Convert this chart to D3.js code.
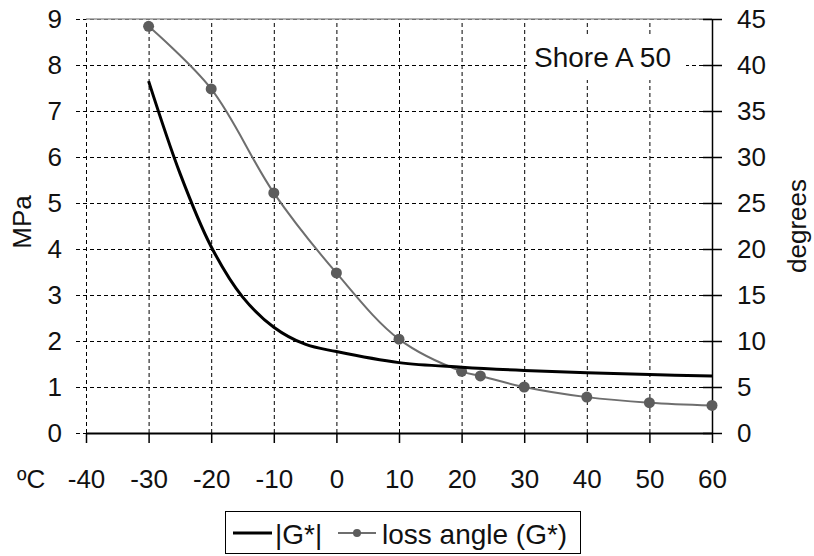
<!DOCTYPE html>
<html lang="en">
<head>
    <meta charset="UTF-8">
    <title>Shore A 50</title>
    <script src="https://d3js.org/d3.v7.min.js"></script>
    <style>
        body {
            margin: 0;
            padding: 0;
            background-color: #fff;
        }
        svg {
            display: block;
            font-family: Arial, "Liberation Sans", sans-serif;
        }
    </style>
</head>
<body>
    <svg id="chart" width="814" height="556"></svg>
    <script>
        // |G*| curve (MPa)
        const modTemps = [-30, -25, -20, -15, -10, -5, 0, 10, 20, 30, 40, 50, 60];
        const modValues = [7.65, 5.65, 4.05, 2.96, 2.3, 1.93, 1.77, 1.53, 1.43, 1.36, 1.31, 1.27, 1.24];

        // loss angle (degrees)
        const lossTemps = [-30, -20, -10, 0, 10, 20, 23, 30, 40, 50, 60];
        const lossValues = [44.2, 37.4, 26.1, 17.4, 10.2, 6.7, 6.2, 5.0, 3.9, 3.3, 3.0];

        const xTicks = [-40, -30, -20, -10, 0, 10, 20, 30, 40, 50, 60];
        const mpaTicks = [0, 1, 2, 3, 4, 5, 6, 7, 8, 9];
        const degTicks = [0, 5, 10, 15, 20, 25, 30, 35, 40, 45];

        const svg = d3.select("#chart");
        const pLeft = 86, pRight = 712, pTop = 19, pBottom = 433;
        const plain = d => String(d); // keep "-" hyphen like the original

        const x = d3.scaleLinear().domain([-40, 60]).range([pLeft, pRight]);
        const yL = d3.scaleLinear().domain([0, 9]).range([pBottom, pTop]);
        const yR = d3.scaleLinear().domain([0, 45]).range([pBottom, pTop]);

        // horizontal grid + left labels
        const gy = svg.append("g")
            .attr("transform", "translate(76,0)")
            .call(d3.axisLeft(yL).tickValues(mpaTicks).tickSize(-(pRight - 76)).tickPadding(14).tickFormat(plain));
        gy.select(".domain").remove();
        gy.selectAll("line").attr("stroke", "#000").attr("stroke-dasharray", "4,3");
        gy.selectAll("text").style("font-size", "26px").attr("fill", "#111");

        // vertical grid
        const gx = svg.append("g")
            .attr("transform", `translate(0,${pBottom})`)
            .call(d3.axisBottom(x).tickValues(xTicks.slice(0, -1)).tickSize(-(pBottom - pTop)).tickFormat(""));
        gx.select(".domain").remove();
        gx.selectAll("line").attr("stroke", "#000").attr("stroke-dasharray", "4,3");

        // top border
        svg.append("line")
            .attr("x1", pLeft).attr("x2", pRight)
            .attr("y1", pTop).attr("y2", pTop)
            .attr("stroke", "#999").attr("stroke-width", 1.5);

        // label box
        svg.append("rect")
            .attr("x", 527).attr("y", 35).attr("width", 159).attr("height", 45)
            .attr("fill", "#fff");
        svg.append("text")
            .attr("x", 534).attr("y", 67)
            .style("font-size", "28px")
            .attr("fill", "#111")
            .text("Shore A 50");

        // bottom axis
        const xa = svg.append("g")
            .attr("transform", `translate(0,${pBottom})`)
            .call(d3.axisBottom(x).tickValues(xTicks).tickSizeInner(10).tickSizeOuter(0).tickPadding(27).tickFormat(plain));
        xa.select(".domain").attr("stroke-width", 2);
        xa.selectAll("line").attr("stroke-width", 1.5);
        xa.selectAll("text").style("font-size", "26px").attr("fill", "#111");

        svg.append("text")
            .attr("x", 17).attr("y", 488)
            .style("font-size", "26px")
            .attr("fill", "#111")
            .text("\u00baC");

        // right axis
        const ya = svg.append("g")
            .attr("transform", `translate(${pRight},0)`)
            .call(d3.axisRight(yR).tickValues(degTicks).tickSizeInner(10).tickSizeOuter(0).tickPadding(15).tickFormat(plain));
        ya.select(".domain").attr("stroke-width", 1.5);
        ya.selectAll(".tick line").attr("x1", -9).attr("stroke-width", 1.5);
        ya.selectAll("text").style("font-size", "26px").attr("fill", "#111");

        // axis titles
        svg.append("text")
            .attr("transform", "translate(31,222) rotate(-90)")
            .attr("text-anchor", "middle")
            .style("font-size", "26px")
            .attr("fill", "#111")
            .text("MPa");
        svg.append("text")
            .attr("transform", "translate(806,226) rotate(-90)")
            .attr("text-anchor", "middle")
            .style("font-size", "26px")
            .attr("fill", "#111")
            .text("degrees");

        // loss angle line
        const lossData = lossTemps.map((t, i) => ({ t, v: lossValues[i] }));
        svg.append("path")
            .datum(lossData)
            .attr("fill", "none")
            .attr("stroke", "#6e6e6e")
            .attr("stroke-width", 2)
            .attr("d", d3.line().curve(d3.curveCatmullRom.alpha(0.5)).x(d => x(d.t)).y(d => yR(d.v)));
        svg.append("g").selectAll("circle")
            .data(lossData)
            .join("circle")
            .attr("cx", d => x(d.t))
            .attr("cy", d => yR(d.v))
            .attr("r", 5.5)
            .attr("fill", "#5c5c5c");

        // |G*| line
        const modData = modTemps.map((t, i) => ({ t, v: modValues[i] }));
        svg.append("path")
            .datum(modData)
            .attr("fill", "none")
            .attr("stroke", "#000")
            .attr("stroke-width", 3)
            .attr("d", d3.line().curve(d3.curveCatmullRom.alpha(0.5)).x(d => x(d.t)).y(d => yL(d.v)));

        // legend
        const lg = svg.append("g");
        lg.append("rect")
            .attr("x", 225.5).attr("y", 511.5).attr("width", 355).attr("height", 42)
            .attr("fill", "#fff").attr("stroke", "#000");
        lg.append("line")
            .attr("x1", 233).attr("x2", 272).attr("y1", 533).attr("y2", 533)
            .attr("stroke", "#000").attr("stroke-width", 3);
        lg.append("text")
            .attr("x", 275).attr("y", 544)
            .style("font-size", "28px")
            .attr("fill", "#111")
            .text("|G*|");
        lg.append("line")
            .attr("x1", 338).attr("x2", 376).attr("y1", 533).attr("y2", 533)
            .attr("stroke", "#6e6e6e").attr("stroke-width", 2);
        lg.append("circle")
            .attr("cx", 357).attr("cy", 533).attr("r", 4)
            .attr("fill", "#5c5c5c");
        lg.append("text")
            .attr("x", 382).attr("y", 544)
            .style("font-size", "28px")
            .attr("fill", "#111")
            .text("loss angle (G*)");
    </script>
</body>
</html>
